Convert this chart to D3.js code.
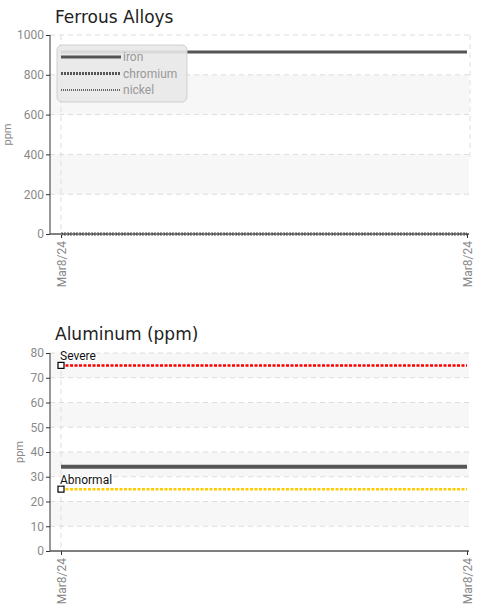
<!DOCTYPE html>
<html><head><meta charset="utf-8">
<script src="https://d3js.org/d3.v7.min.js"></script>
<style>
body{margin:0;background:#fff;}
svg{display:block;}
.tick text{font-family:Roboto,sans-serif;font-size:12px;fill:#8a8a8a;}
</style></head>
<body>
<svg id="c" width="483" height="613"></svg>
<script>
const dates = ["Mar8/24", "Mar8/24"];
const ferrousTicks = [0, 200, 400, 600, 800, 1000];
const ironValues = [915, 915];
const chromiumValues = [0, 0];
const nickelValues = [0, 0];
const ferrousLegend = ["iron", "chromium", "nickel"];
const aluminumTicks = [0, 10, 20, 30, 40, 50, 60, 70, 80];
const aluminumValues = [34, 34];
const severeValues = [75, 75];
const abnormalValues = [25, 25];

const svg = d3.select("#c");
const narrow = 'Roboto,sans-serif';

function chart(opt){
  const g = svg.append("g");
  const x = d3.scaleLinear().domain([0, dates.length-1]).range([61, 467]);
  const y = d3.scaleLinear().domain([opt.ticks[0], opt.ticks[opt.ticks.length-1]]).range([opt.bottom, opt.top]);
  const L = 50, R = 469;
  for(let i=0;i<opt.ticks.length-1;i++){
    if(i%2===1){
      g.append("rect").attr("x",L).attr("width",R-L)
       .attr("y",y(opt.ticks[i+1])).attr("height",y(opt.ticks[i])-y(opt.ticks[i+1]))
       .attr("fill","#f7f7f7");
    }
  }
  g.selectAll(".gy").data(opt.ticks.slice(1)).enter().append("line")
    .attr("x1",L).attr("x2",R).attr("y1",d=>y(d)).attr("y2",d=>y(d))
    .attr("stroke","#ddd").attr("stroke-dasharray","5,4");
  g.append("line").attr("x1",x(0)).attr("x2",x(0)).attr("y1",opt.top).attr("y2",opt.bottom)
    .attr("stroke","#ddd").attr("stroke-dasharray","5,4");
  if(opt.rightGrid){
    g.append("line").attr("x1",470).attr("x2",470).attr("y1",opt.top).attr("y2",y(opt.rightGrid))
      .attr("stroke","#ddd").attr("stroke-dasharray","5,4");
  }
  g.append("text").attr("x",55).attr("y",opt.titleY).text(opt.title)
    .attr("font-family","'DejaVu Sans',sans-serif").attr("font-size",17).attr("fill","#222");
  const ya = d3.axisLeft(y).tickValues(opt.ticks).tickFormat(d3.format("d")).tickSize(4).tickPadding(2);
  const yg = g.append("g").attr("transform",`translate(${L},0)`).call(ya);
  yg.select(".domain").attr("stroke","#333").attr("d",`M0,${opt.top}V${opt.bottom}`);
  yg.selectAll(".tick line").attr("stroke","#333");
  const xa = d3.axisBottom(x).tickValues(d3.range(dates.length)).tickFormat(i=>dates[i]).tickSize(4);
  const xg = g.append("g").attr("transform",`translate(0,${opt.bottom})`).call(xa);
  xg.select(".domain").attr("stroke","#555").attr("stroke-width",1.5).attr("d",`M${L},0H${R}`);
  xg.selectAll(".tick line").attr("stroke","#333");
  xg.selectAll(".tick text").attr("transform","rotate(-90)").attr("text-anchor","end")
    .attr("x",-7).attr("y",0).attr("dy","0.35em");
  g.append("text").attr("transform",`translate(${opt.labelX},${(opt.top+opt.bottom)/2}) rotate(-90)`)
    .attr("text-anchor","middle").attr("font-family",narrow).attr("font-size",11).attr("fill","#888").text("ppm");
  const line = d3.line().x((d,i)=>x(i)).y(d=>y(d));
  opt.series.forEach(s=>{
    g.append("path").datum(s.values).attr("d",line).attr("fill","none")
      .attr("stroke",s.color).attr("stroke-width",s.width).attr("stroke-dasharray",s.dash||null);
    if(s.label){
      g.append("rect").attr("x",x(0)-3).attr("y",y(s.values[0])-3).attr("width",6).attr("height",6)
        .attr("fill","#fff").attr("stroke","#000").attr("stroke-width",1.2);
      g.append("text").attr("x",x(0)-1).attr("y",y(s.values[0])-5).text(s.label)
        .attr("font-family",narrow).attr("font-size",12).attr("fill","#111")
        .attr("stroke","#fff").attr("stroke-width",2.5).attr("paint-order","stroke");
    }
  });
  return {g,x,y};
}

const c1 = chart({title:"Ferrous Alloys", titleY:23, ticks:ferrousTicks, top:35, bottom:234, labelX:11, rightGrid:380,
  series:[
    {values:chromiumValues,color:"#555",width:3,dash:"2,1"},
    {values:nickelValues,color:"#777",width:2,dash:"1,1"},
    {values:ironValues,color:"#555",width:3}
  ]});
const lg = c1.g.append("g");
lg.append("rect").attr("x",57).attr("y",45).attr("width",130).attr("height",57).attr("rx",5)
  .attr("fill","#e8e8e8").attr("fill-opacity",0.9).attr("stroke","#d0d0d0");
const legendStyle = [{w:3,dash:null,c:"#555"},{w:3,dash:"2,1",c:"#555"},{w:2,dash:"1,1",c:"#666"}];
ferrousLegend.forEach((name,i)=>{
  const yy = 57 + i*16.5;
  lg.append("line").attr("x1",61).attr("x2",121).attr("y1",yy).attr("y2",yy)
    .attr("stroke",legendStyle[i].c).attr("stroke-width",legendStyle[i].w).attr("stroke-dasharray",legendStyle[i].dash);
  lg.append("text").attr("x",123).attr("y",yy).attr("dy","0.35em").text(name)
    .attr("font-family",narrow).attr("font-size",12).attr("fill","#999");
});

chart({title:"Aluminum (ppm)", titleY:340, ticks:aluminumTicks, top:353, bottom:551, labelX:23,
  series:[
    {values:aluminumValues,color:"#555",width:4},
    {values:severeValues,color:"#ff0000",width:2.5,dash:"3,1.5",label:"Severe"},
    {values:abnormalValues,color:"#ffcc00",width:2.5,dash:"3,1.5",label:"Abnormal"}
  ]});
</script>
</body></html>
